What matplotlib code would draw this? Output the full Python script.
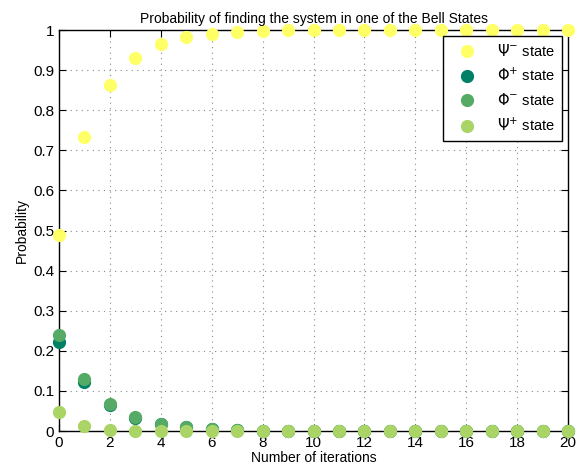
import numpy as np
import matplotlib
matplotlib.use("Agg")
import matplotlib.pyplot as plt

plt.rcParams["font.family"] = ["Liberation Sans", "DejaVu Sans"]
plt.rcParams["mathtext.fontset"] = "dejavusans"

iterations = np.arange(0, 21)
psi_minus = [0.490, 0.733, 0.863, 0.930, 0.965, 0.982, 0.991, 0.996, 0.998, 0.999, 1.0,
             1.0, 1.0, 1.0, 1.0, 1.0, 1.0, 1.0, 1.0, 1.0, 1.0]
phi_plus = [0.222, 0.122, 0.064, 0.033, 0.017, 0.009, 0.004, 0.002, 0.001, 0.0, 0.0,
            0.0, 0.0, 0.0, 0.0, 0.0, 0.0, 0.0, 0.0, 0.0, 0.0]
phi_minus = [0.240, 0.130, 0.068, 0.035, 0.018, 0.009, 0.005, 0.002, 0.001, 0.0, 0.0,
             0.0, 0.0, 0.0, 0.0, 0.0, 0.0, 0.0, 0.0, 0.0, 0.0]
psi_plus = [0.047, 0.012, 0.003, 0.001, 0.0, 0.0, 0.0, 0.0, 0.0, 0.0, 0.0,
            0.0, 0.0, 0.0, 0.0, 0.0, 0.0, 0.0, 0.0, 0.0, 0.0]

series = [
    (psi_minus, "#ffff66", r"$\Psi^{-}$ state"),
    (phi_plus, "#008066", r"$\Phi^{+}$ state"),
    (phi_minus, "#55aa66", r"$\Phi^{-}$ state"),
    (psi_plus, "#aad466", r"$\Psi^{+}$ state"),
]

fig = plt.figure(figsize=(5.76, 4.74), dpi=100)
ax = fig.add_axes([0.1024, 0.0907, 0.884, 0.846])

for vals, col, lab in series:
    ax.plot(iterations, vals, "o", color=col, markersize=9.5, markeredgewidth=0,
            label=lab, clip_on=False, zorder=3)

ax.set_xlim(0, 20)
ax.set_ylim(0, 1)
ax.set_xticks(range(0, 21, 2))
ax.set_yticks(np.arange(0, 1.01, 0.1))
ax.set_yticklabels(["0", "0.1", "0.2", "0.3", "0.4", "0.5", "0.6", "0.7", "0.8", "0.9", "1"])
ax.tick_params(direction="in", top=True, right=True, labelsize=11, length=5)
ax.grid(True, linestyle=(0, (1, 4)), color="#888888", linewidth=0.8)
for s in ax.spines.values():
    s.set_linewidth(1.0)

ax.set_title("Probability of finding the system in one of the Bell States", fontsize=10, pad=5)
ax.set_xlabel("Number of iterations", fontsize=10, labelpad=1)
ax.set_ylabel("Probability", fontsize=10, labelpad=3)

leg = ax.legend(loc="upper right", fancybox=False, edgecolor="black", fontsize=10.5,
                borderaxespad=0.4, handletextpad=1.0, labelspacing=0.55, framealpha=1,
                borderpad=0.5, handlelength=2.2)
leg.get_frame().set_linewidth(1.0)

fig.savefig("out.png", dpi=100)
